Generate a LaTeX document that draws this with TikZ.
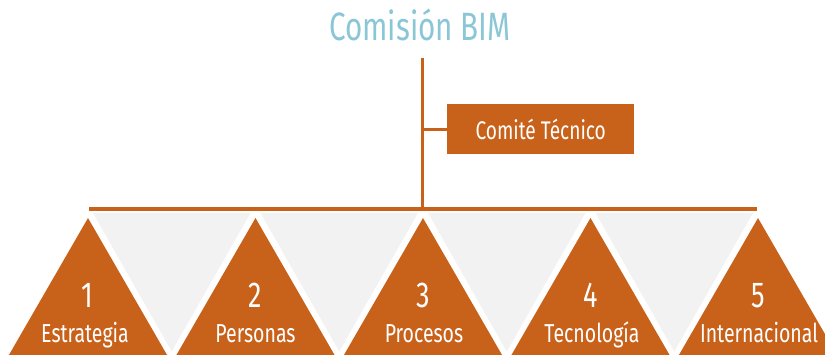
\documentclass[tikz,border=0pt]{standalone}
\usepackage{fontspec}
\newfontfamily\condf[FakeStretch=0.75]{Fira Sans}
\definecolor{bimorange}{RGB}{200,98,27}
\definecolor{bimgrey}{RGB}{242,242,242}
\definecolor{bimblue}{RGB}{138,198,214}
\tikzset{
  conn/.style={draw=bimorange, line width=3pt},
  bar/.style={draw=bimorange, line width=4pt},
  numtxt/.style={text=white, font=\condf\fontsize{36}{36}\selectfont, anchor=base, inner sep=0pt},
  labtxt/.style={text=white, font=\condf\fontsize{26}{26}\selectfont, anchor=base, inner sep=0pt},
}
\begin{document}
\begin{tikzpicture}[x=1pt,y=-1pt]
\useasboundingbox (0,0) rectangle (825,354);
\begin{scope}
\clip (0,0) rectangle (825,354);
% grey inverted triangles
\foreach \i in {0,1,2,3} {
  \pgfmathsetmacro{\a}{88+167.5*\i}
  \pgfmathsetmacro{\b}{88+167.5*(\i+1)}
  \pgfmathsetmacro{\m}{(\a+\b)/2}
  \fill[bimgrey] (\a+5,213) -- (\b-5,213) -- (\m,351.5) -- cycle;
}
% orange triangles
\foreach \i in {0,1,2,3,4} {
  \pgfmathsetmacro{\a}{88+167.5*\i}
  \fill[bimorange] (\a,218) -- (\a+80.8,358) -- (\a-80.8,358) -- cycle;
}
\end{scope}
% title
\node[text=bimblue, font=\condf\fontsize{39.5}{39.5}\selectfont, anchor=base, inner sep=0pt] (title) at (420,40) {Comisión BIM};
% comite box
\node[fill=bimorange, text=white, font=\condf\fontsize{25.5}{25.5}\selectfont, minimum width=187pt, minimum height=50pt, inner sep=0pt, anchor=north west] (comite) at (447,104) {Comité Técnico};
% connectors
\coordinate (top) at (422.5,58);
\coordinate (hub) at (422.5,209);
\coordinate (bl) at (89,209);
\coordinate (br) at (757,209);
\draw[conn] (top) -- (hub);
\draw[conn] (comite.west) -- (comite.west -| top);
\draw[bar] (bl) -- (br);
% texts
\node[numtxt] (n1) at (87,307) {1};
\node[numtxt] (n2) at (255.5,307) {2};
\node[numtxt] (n3) at (423,307) {3};
\node[numtxt] (n4) at (590.5,307) {4};
\node[numtxt] (n5) at (758,307) {5};
\node[labtxt] (l1) at (85,342) {Estrategia};
\node[labtxt] (l2) at (255.5,342) {Personas};
\node[labtxt] (l3) at (424,342) {Procesos};
\node[labtxt] (l4) at (592,342) {Tecnología};
\node[labtxt] (l5) at (759,342) {Internacional};
\end{tikzpicture}
\end{document}
